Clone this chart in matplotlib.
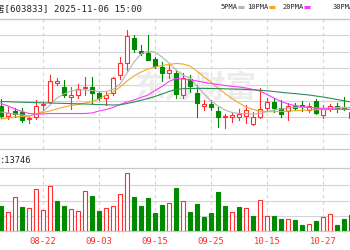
""" K-line with moving averages and volume - 603833 """
import matplotlib
matplotlib.use('Agg')
import matplotlib.pyplot as plt
from matplotlib.lines import Line2D
from matplotlib.patches import Rectangle
import numpy as np

# trading days in view (08-14 .. 10-31)
dates = ['08-14', '08-15', '08-18', '08-19', '08-20', '08-21', '08-22',
         '08-25', '08-26', '08-27', '08-28', '08-29', '09-01', '09-02',
         '09-03', '09-04', '09-05', '09-08', '09-09', '09-10', '09-11',
         '09-12', '09-15', '09-16', '09-17', '09-18', '09-19', '09-22',
         '09-23', '09-24', '09-25', '09-26', '09-29', '09-30', '10-09',
         '10-10', '10-13', '10-14', '10-15', '10-16', '10-17', '10-20',
         '10-21', '10-22', '10-23', '10-24', '10-27', '10-28', '10-29',
         '10-30', '10-31']
tick_labels = ['08-12', '08-22', '09-03', '09-15', '09-25', '10-15', '10-27']

open_p = [53.40, 52.40, 52.90, 52.85, 52.15, 52.35, 53.50, 53.80, 55.75, 55.27,
          54.33, 54.50, 55.17, 55.33, 54.67, 54.17, 54.67, 56.50, 57.67, 60.17,
          58.93, 58.70, 58.07, 57.33, 56.73, 56.73, 54.50, 56.07, 54.73, 53.40,
          53.60, 52.93, 52.27, 52.27, 52.33, 52.40, 51.60, 52.27, 53.17, 53.83,
          53.17, 52.93, 53.40, 53.50, 53.00, 53.90, 52.50, 53.07, 53.40, 53.25,
          52.20]
close_p = [52.40, 52.67, 52.60, 52.05, 52.25, 53.45, 53.65, 55.90, 55.90, 54.50,
           54.50, 55.07, 55.33, 54.73, 54.17, 54.50, 56.17, 57.67, 60.40, 59.07,
           58.67, 58.05, 57.40, 56.73, 57.00, 54.60, 56.17, 55.40, 53.67, 53.60,
           53.27, 52.27, 52.40, 52.50, 52.57, 53.00, 52.27, 53.07, 53.83, 53.17,
           52.60, 53.40, 53.23, 53.27, 53.40, 52.73, 53.07, 53.40, 53.20, 53.10,
           52.80]
high_p = [54.07, 53.27, 53.20, 53.20, 52.35, 54.00, 53.80, 56.50, 56.20, 56.00,
          55.33, 55.57, 56.33, 56.33, 54.90, 54.83, 56.33, 58.27, 61.00, 60.50,
          59.50, 60.55, 58.33, 57.83, 57.73, 57.00, 56.67, 56.50, 55.50, 54.00,
          54.00, 53.33, 52.60, 52.67, 53.07, 53.50, 52.83, 55.17, 54.17, 54.17,
          54.00, 53.67, 53.73, 53.93, 53.67, 54.07, 53.50, 53.60, 53.70, 54.33,
          53.00]
low_p = [52.20, 52.07, 52.30, 51.80, 51.67, 52.10, 53.00, 53.70, 55.50, 54.33,
         53.07, 54.17, 54.50, 53.67, 54.00, 53.50, 54.50, 56.07, 57.00, 58.83,
         58.50, 58.00, 57.17, 55.93, 56.17, 54.17, 54.17, 54.83, 52.27, 53.00,
         53.00, 51.33, 51.17, 51.83, 52.00, 51.67, 51.50, 52.17, 53.00, 52.83,
         52.33, 52.00, 53.00, 52.93, 52.83, 52.60, 52.23, 52.93, 52.83, 53.00,
         51.90]

ma5 = [52.80, 52.70, 52.60, 52.50, 52.40, 52.60, 52.85, 53.50, 54.20, 54.60,
       54.90, 55.00, 55.00, 54.95, 54.85, 54.85, 55.05, 55.60, 56.70, 57.80,
       58.60, 58.90, 58.80, 58.30, 57.70, 57.00, 56.50, 56.20, 55.40, 54.60,
       53.90, 53.40, 53.00, 52.75, 52.65, 52.65, 52.60, 52.65, 52.85, 53.00,
       53.10, 53.20, 53.27, 53.27, 53.25, 53.20, 53.17, 53.20, 53.25, 53.27,
       53.25]
ma10 = [52.10, 52.20, 52.30, 52.35, 52.40, 52.55, 52.75, 52.90, 53.10, 53.30,
        53.45, 53.55, 53.70, 53.85, 54.10, 54.50, 54.80, 55.30, 55.90, 56.40,
        56.80, 57.10, 57.30, 57.45, 57.55, 57.65, 57.60, 57.40, 56.90, 56.30,
        55.80, 55.20, 54.65, 54.15, 53.70, 53.30, 53.05, 52.90, 52.83, 52.83,
        52.85, 52.90, 52.93, 52.97, 53.00, 53.02, 53.04, 53.05, 53.07, 53.07,
        53.07]
ma20 = [53.65, 53.40, 53.10, 52.85, 52.65, 52.60, 52.60, 52.65, 52.65, 52.65,
        52.65, 52.65, 52.65, 52.70, 52.90, 53.05, 53.25, 53.55, 53.80, 54.00,
        54.25, 54.50, 54.95, 55.35, 55.85, 56.15, 56.10, 56.00, 55.90, 55.77,
        55.65, 55.55, 55.45, 55.37, 55.30, 55.20, 55.05, 54.90, 54.55, 54.20,
        53.85, 53.60, 53.45, 53.35, 53.27, 53.20, 53.12, 53.10, 53.08, 53.07,
        53.07]
ma30 = [53.85, 53.83, 53.80, 53.78, 53.76, 53.74, 53.72, 53.70, 53.68, 53.66,
        53.64, 53.62, 53.60, 53.57, 53.54, 53.52, 53.50, 53.52, 53.65, 53.80,
        53.97, 54.15, 54.35, 54.60, 54.85, 55.05, 55.13, 55.15, 55.16, 55.16,
        55.15, 55.14, 55.12, 55.10, 55.08, 55.05, 55.02, 54.98, 54.92, 54.85,
        54.77, 54.70, 54.64, 54.57, 54.50, 54.40, 54.30, 54.18, 54.05, 53.92,
        53.80]

volume = [21500, 15900, 28600, 20100, 19300, 35400, 17600, 38500, 25500, 21500,
          18400, 16700, 33700, 30000, 17000, 19300, 21500, 31500, 49000, 28600,
          21500, 27800, 15300, 22400, 23500, 36300, 25500, 16200, 23200, 12200,
          15300, 33200, 21000, 15900, 20400, 19300, 12500, 26100, 12500, 12500,
          10200, 9900, 9400, 5500, 6200, 8500, 11600, 14500, 5500, 10200, 13600]
vol_up = [0, 1, 1, 0, 1, 1, 1, 1, 0, 0, 1, 1, 1, 0, 0, 1, 1, 1, 1, 0, 0, 0, 0,
          0, 1, 0, 1, 0, 0, 0, 0, 0, 0, 1, 0, 1, 0, 1, 1, 0, 0, 1, 0, 0, 1, 0,
          1, 1, 0, 0, 0]

RED = '#ff2d2d'
GREEN = '#008a00'
GRID = '#d4d4d4'
W, H = 350.0, 250.0
MONO = ['DejaVu Sans Mono', 'Noto Sans CJK SC']


def box(top, bottom):
    """pixel rows -> figure rect"""
    return [0, 1 - bottom / H, 1, (bottom - top) / H]


def fx(px):
    return px / W


def fy(py):
    return 1 - py / H


fig = plt.figure(figsize=(3.5, 2.5), dpi=100)
ax = fig.add_axes(box(19, 149))
axv = fig.add_axes(box(168.3, 231))

x = np.arange(len(dates))
xmin, xmax = -1 / 7, 349 / 7
grid_idx = np.arange(6, len(dates), 8)

for a in (ax, axv):
    a.set_xlim(xmin, xmax)
    a.set_xticks([])
    a.set_yticks([])
    for s in ('left', 'right'):
        a.spines[s].set_visible(False)
    for s in ('top', 'bottom'):
        a.spines[s].set_color('#c8c8c8')
        a.spines[s].set_linewidth(0.9)
    for g in grid_idx:
        a.axvline(g, color=GRID, lw=0.8, ls=(0, (3, 3)), zorder=0.5)

# price panel
ax.set_ylim(49.1, 62.1)
for lvl in np.arange(50.62, 61.0, 1.64):
    ax.axhline(lvl, color=GRID, lw=0.8, zorder=0.5)

ax.text(0.557, 0.47, '东方财富', transform=ax.transAxes, ha='center',
        va='center', fontsize=22, color='#ececec', fontweight='bold',
        family=['Noto Sans CJK SC'], zorder=0.6)

bw = 0.64
for i in range(len(dates)):
    o, c, h, l = open_p[i], close_p[i], high_p[i], low_p[i]
    up = c >= o
    col = RED if up else GREEN
    top, bot = max(o, c), min(o, c)
    ax.plot([i, i], [top, h], color=col, lw=0.8, zorder=3)
    ax.plot([i, i], [l, bot], color=col, lw=0.8, zorder=3)
    ax.add_patch(Rectangle((i - bw / 2, bot), bw, max(top - bot, 0.04),
                           facecolor='white' if up else col, edgecolor=col,
                           lw=0.8, zorder=4))

ax.plot(x, ma5, color='#b4b4b4', lw=0.8, zorder=5)
ax.plot(x, ma10, color='#f5a623', lw=0.8, zorder=5)
ax.plot(x, ma20, color='#ff38ff', lw=0.8, zorder=5)
ax.plot(x, ma30, color='#2e8b57', lw=0.8, zorder=5)

# volume panel
vmax = 53300
axv.set_ylim(0, vmax)
for lvl in (12600, 25900, 38900):
    axv.axhline(lvl, color=GRID, lw=0.8, zorder=0.5)
for i in range(len(dates)):
    col = RED if vol_up[i] else GREEN
    axv.bar(x[i], volume[i], width=0.7, facecolor='white' if vol_up[i] else col,
            edgecolor=col, lw=0.8, zorder=3)

for k, lab in enumerate(tick_labels):
    axv.text(-2 + 8 * k, -10.0 / 62.7, lab, transform=axv.get_xaxis_transform(),
             ha='center', va='center', fontsize=6.4, color=RED, family=MONO,
             clip_on=False)

# texts in header rows
fig.text(fx(-31.7), fy(8.8), '欧派家居[603833] 2025-11-06 15:00', ha='left',
         va='center', fontsize=6.6, color='#222222', family=MONO)
fig.text(fx(-0.5), fy(160.7), ':13746', ha='left', va='center', fontsize=6.3,
         color='#222222', family=MONO)

legend = [('5PMA', '#b4b4b4', 220), ('10PMA', '#f5a623', 247),
          ('20PMA', '#ff38ff', 282), ('30PMA', '#2e8b57', 333)]
for name, col, px in legend:
    fig.text(fx(px), fy(7), name, ha='left', va='center', fontsize=5,
             color='#222222', family=MONO)
    end = px + 4.18 * len(name) + 1
    fig.add_artist(Line2D([fx(end), fx(end + 6)], [fy(7), fy(7)], color=col,
                          lw=2.2, solid_capstyle='butt'))

fig.add_artist(Line2D([0, 1], [fy(19), fy(19)], color='#c8c8c8', lw=0.9))

fig.savefig('out.png', dpi=100, facecolor='white')
